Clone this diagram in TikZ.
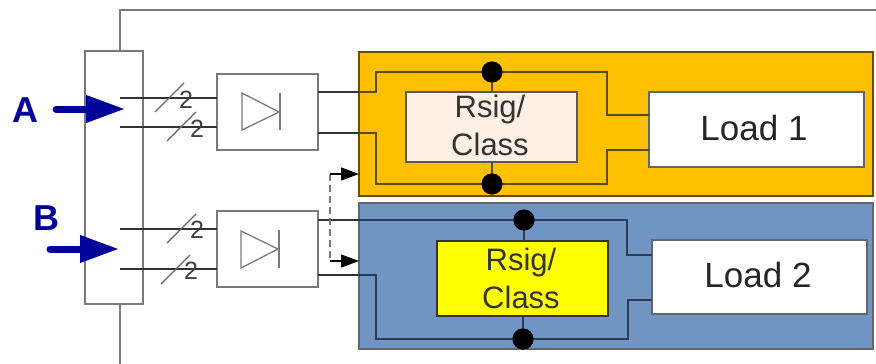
\documentclass[tikz,border=0pt]{standalone}
\usepackage{fontspec}
\setmainfont{Liberation Sans}
\usetikzlibrary{arrows.meta}
\definecolor{framegray}{HTML}{7A7A7A}
\definecolor{wire}{HTML}{333333}
\definecolor{navyarrow}{HTML}{00009A}
\definecolor{orangefill}{HTML}{FFC000}
\definecolor{bluefill}{HTML}{7095C2}
\definecolor{peach}{HTML}{FDEFE4}
\definecolor{pureyellow}{HTML}{FFFF00}
\definecolor{lineorange}{HTML}{5C4A14}
\definecolor{lineblue}{HTML}{2B3B50}
\tikzset{
  x=1pt,y=-1pt,
  box/.style={draw=framegray,line width=1.5pt,fill=white,inner sep=0pt,outer sep=0pt,anchor=north west},
  zone/.style={draw=#1,line width=1.3pt,inner sep=0pt,outer sep=0pt,anchor=north west},
  wirea/.style={draw=wire,line width=1.3pt},
  wireo/.style={draw=lineorange,line width=1.5pt},
  wireb/.style={draw=lineblue,line width=1.5pt},
  dotnode/.style={circle,fill=black,minimum size=21pt,inner sep=0pt,outer sep=0pt},
  slashmark/.style={draw=black!60,line width=1.2pt},
  countlabel/.style={font=\fontsize{25}{25}\selectfont,text=black!75,inner sep=0pt},
  bigarrow/.style={draw=navyarrow,line width=7pt,line cap=round,-{Triangle[length=39pt,width=26pt,line cap=butt]}},
  portlabel/.style={font=\fontsize{36}{36}\selectfont\bfseries,text=navyarrow,inner sep=0pt},
  rsig/.style={box,draw=black!65},
  rsigtext/.style={align=center,font=\fontsize{31}{38}\selectfont,text=black!80,inner sep=0pt},
  loadbox/.style={box,draw=black!60},
  loadtext/.style={font=\fontsize{35}{35}\selectfont,text=black!85,inner sep=0pt},
  diodeline/.style={draw=framegray,line width=1.3pt,line join=miter},
  sense/.style={draw=framegray,line width=1.3pt,dash pattern=on 7pt off 4pt},
  sensearrow/.style={draw=black,line width=1.1pt,-{Triangle[length=18pt,width=13pt]}}
}
\begin{document}
\begin{tikzpicture}
\useasboundingbox (0,0) rectangle (876,364);
% enclosure
\coordinate (frametop) at (120,10);
\coordinate (frameright) at (876,10);
\coordinate (framebottom) at (120,364);
\draw[draw=framegray,line width=1.8pt] (frameright) -- (frametop) -- (120,51);
\draw[draw=framegray,line width=1.8pt] (120,304) -- (framebottom);
% zones
\node[zone=black!60!orangefill,fill=orangefill,minimum width=514pt,minimum height=144pt] (zoneA) at (359,52) {};
\node[zone=black!60,fill=bluefill,minimum width=514pt,minimum height=146pt] (zoneB) at (359,203) {};
% left box
\node[box,minimum width=58pt,minimum height=253pt] (conn) at (85,51) {};
% diode boxes
\node[box,minimum width=101pt,minimum height=76pt] (bridgeA) at (217,74) {};
\node[box,minimum width=101pt,minimum height=76pt] (bridgeB) at (217,211) {};
% loads and rsig
\node[loadbox,minimum width=215pt,minimum height=75pt] (loadA) at (649,92) {};
\node[loadbox,minimum width=215pt,minimum height=74pt] (loadB) at (652,240) {};
\node[loadtext] (loadAtext) at (754,127.5) {Load 1};
\node[loadtext] (loadBtext) at (758,274.5) {Load 2};
\node[rsig,fill=peach,minimum width=171pt,minimum height=70pt] (rsigA) at (406,92) {};
\node[rsig,draw=black!80,fill=pureyellow,minimum width=171pt,minimum height=75pt] (rsigB) at (437,241) {};
\node[rsigtext] (rsigAtext) at (490,125) {Rsig/\\Class};
\node[rsigtext] (rsigBtext) at (521,278) {Rsig/\\Class};
% input lines
\coordinate (a1) at (120,98); \coordinate (a2) at (120,127);
\coordinate (b1) at (120,229); \coordinate (b2) at (120,269);
\draw[wirea] (a1) -- (a1 -| bridgeA.west);
\draw[wirea] (a2) -- (a2 -| bridgeA.west);
\draw[wirea] (b1) -- (b1 -| bridgeB.west);
\draw[wirea] (b2) -- (b2 -| bridgeB.west);
% slashes
\draw[slashmark] (155,112) -- (184,83);
\draw[slashmark] (167,141) -- (196,112);
\draw[slashmark] (167,243) -- (196,214);
\draw[slashmark] (161,284) -- (190,255);
\node[countlabel] (n1) at (186,100) {2};
\node[countlabel] (n2) at (197,129) {2};
\node[countlabel] (n3) at (197,230) {2};
\node[countlabel] (n4) at (191,271) {2};
% diodes
\draw[diodeline] (242,93) -- (279,112) -- (242,130) -- cycle;
\draw[diodeline] (280,93) -- (280,130);
\draw[diodeline] (241,231) -- (278,249) -- (241,268) -- cycle;
\draw[diodeline] (279,230) -- (279,268);
% junction dots
\node[dotnode] (dA1) at (492,72) {};
\node[dotnode] (dA2) at (492,184) {};
\node[dotnode] (dB1) at (524,220) {};
\node[dotnode] (dB2) at (523,339) {};
% wires in orange zone
\coordinate (oa) at (318,92); \coordinate (ob) at (318,133);
\coordinate (oc) at (649,115); \coordinate (od) at (649,150);
\draw[wirea] (oa) -- (359,92);
\draw[wirea] (ob) -- (359,133);
\draw[wireo] (359,92) -- (376,92) -- (376,72) -- (dA1.center) -- (607,72) -- (607,115) -- (oc);
\draw[wireo] (359,133) -- (376,133) -- (376,184) -- (dA2.center) -- (607,184) -- (607,150) -- (od);
\draw[wireo] (dA1) -- (dA1 |- rsigA.north);
\draw[wireo] (dA2) -- (dA2 |- rsigA.south);
% wires in blue zone
\coordinate (ba) at (318,220); \coordinate (bb) at (318,275);
\coordinate (bc) at (652,255); \coordinate (bd) at (652,300);
\draw[wirea] (ba) -- (359,220);
\draw[wirea] (bb) -- (359,275);
\draw[wireb] (359,220) -- (dB1.center) -- (627,220) -- (627,255) -- (bc);
\draw[wireb] (359,275) -- (376,275) -- (376,339) -- (dB2.center) -- (628,339) -- (628,300) -- (bd);
\draw[wireb] (dB1) -- (dB1 |- rsigB.north);
\draw[wireb] (dB2) -- (dB2 |- rsigB.south);
% redraw dots above wires
\node[dotnode] at (dA1) {};
\node[dotnode] at (dA2) {};
\node[dotnode] at (dB1) {};
\node[dotnode] at (dB2) {};
% sense dashed
\coordinate (s1) at (330,174); \coordinate (s2) at (330,261);
\draw[sense] (s1) -- (s2);
\draw[sensearrow] (s1) -- (zoneA.west |- s1);
\draw[sensearrow] (s2) -- (zoneB.west |- s2);
% A, B arrows
\coordinate (arrA) at (56,109); \coordinate (arrAend) at (125,109);
\coordinate (arrB) at (50,249); \coordinate (arrBend) at (119,249);
\draw[bigarrow] (arrA) -- (arrAend);
\draw[bigarrow] (arrB) -- (arrBend);
\node[portlabel] (labA) at (25,110) {A};
\node[portlabel] (labB) at (46,218) {B};
\end{tikzpicture}
\end{document}
